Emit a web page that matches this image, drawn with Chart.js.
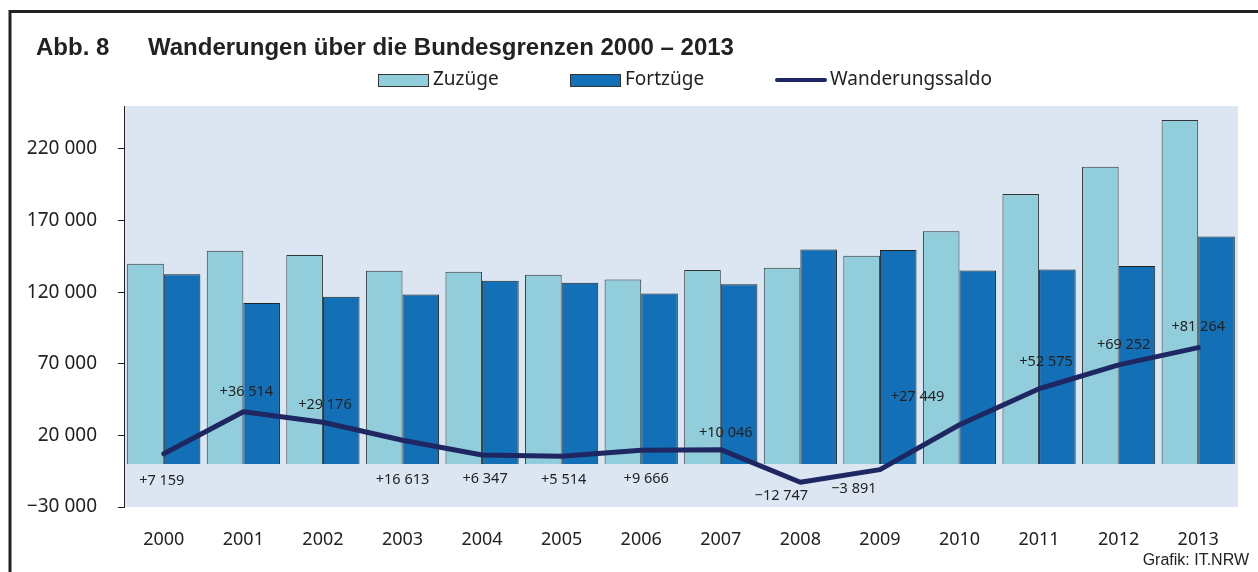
<!DOCTYPE html>
<html>
<head>
<meta charset="utf-8">
<script src="https://cdn.jsdelivr.net/npm/chart.js@4"></script>
<style>
  body { margin: 0; background: #fff; }
  #wrap { width: 1258px; height: 572px; }
</style>
</head>
<body>
<div id="wrap"><canvas id="chart" width="1258" height="572"></canvas></div>
<script>
// data
const years = ['2000', '2001', '2002', '2003', '2004', '2005', '2006', '2007', '2008', '2009', '2010', '2011', '2012', '2013'];
const zuzuege = [139800, 149000, 146000, 134900, 134300, 132100, 128800, 135500, 137100, 145500, 162600, 188500, 207500, 240200];
const fortzuege = [132600, 112500, 116800, 118300, 128000, 126600, 119100, 125500, 149800, 149400, 135200, 135900, 138300, 158900];
const saldo = [7159, 36514, 29176, 16613, 6347, 5514, 9666, 10046, -12747, -3891, 27449, 52575, 69252, 81264];
const yTicks = [-30000, 20000, 70000, 120000, 170000, 220000];

// where each saldo label sits relative to its point (px)
const labelOffsets = [[-2, 27], [3, -20], [2, -17], [0, 40], [3, 24], [2, 24], [5, 29],
  [5, -17], [-19, 14], [-26, 19], [-42, -28], [7, -27], [5, -20], [0, -21]];

const FONT = "'Noto Sans', sans-serif";
const C_ZU = '#92cddc';
const C_FORT = '#1370b7';
const C_SALDO = '#1e2761';

function fmt(v) {
  const s = Math.abs(v).toString().replace(/\B(?=(\d{3})+(?!\d))/g, ' ');
  return (v < 0 ? '\u2212' : '') + s;
}

Chart.defaults.font.family = FONT;
Chart.defaults.color = '#222';

// background of the plot, frame, title, legend and credit
const decor = {
  id: 'decor',
  beforeDraw(chart) {
    const { ctx, chartArea: a } = chart;
    ctx.save();
    ctx.fillStyle = '#dce6f2';
    ctx.fillRect(a.left, a.top, a.right - a.left, a.bottom - a.top);
    ctx.restore();
  },
  afterDraw(chart) {
    const ctx = chart.ctx;
    ctx.save();
    // frame
    ctx.strokeStyle = '#222';
    ctx.lineWidth = 3;
    ctx.beginPath();
    ctx.moveTo(10, 572);
    ctx.lineTo(10, 11.5);
    ctx.lineTo(1258, 11.5);
    ctx.stroke();

    // title
    ctx.fillStyle = '#222';
    ctx.textBaseline = 'alphabetic';
    ctx.font = "bold 24px 'Liberation Sans', Arial, sans-serif";
    ctx.fillText('Abb. 8', 36, 55);
    ctx.fillText('Wanderungen über die Bundesgrenzen 2000 \u2013 2013', 148, 55);

    // legend
    ctx.font = '19px ' + FONT;
    ctx.textBaseline = 'middle';
    const ds = chart.data.datasets;
    const items = [
      { x: 378, ds: ds[0], type: 'box' },
      { x: 570, ds: ds[1], type: 'box' },
      { x: 775, ds: ds[2], type: 'line' }
    ];
    items.forEach(it => {
      if (it.type === 'box') {
        ctx.fillStyle = it.ds.backgroundColor;
        ctx.fillRect(it.x, 74, 50, 12);
        ctx.strokeStyle = '#333';
        ctx.lineWidth = 1;
        ctx.strokeRect(it.x + 0.5, 74.5, 50, 12);
      } else {
        ctx.strokeStyle = it.ds.borderColor;
        ctx.lineWidth = 4;
        ctx.lineCap = 'round';
        ctx.beginPath();
        ctx.moveTo(it.x + 2, 80);
        ctx.lineTo(it.x + 50, 80);
        ctx.stroke();
      }
      ctx.fillStyle = '#222';
      ctx.fillText(it.ds.label, it.x + 55, 80);
    });

    // saldo labels
    const meta = chart.getDatasetMeta(2);
    ctx.font = '14.5px ' + FONT;
    ctx.textAlign = 'center';
    ctx.fillStyle = '#222';
    meta.data.forEach((pt, i) => {
      const v = saldo[i];
      const txt = (v >= 0 ? '+' : '\u2212') + fmt(Math.abs(v));
      const o = labelOffsets[i];
      ctx.fillText(txt, pt.x + o[0], pt.y + o[1]);
    });

    // credit
    ctx.font = "16px 'Liberation Sans', Arial, sans-serif";
    ctx.textAlign = 'right';
    ctx.fillText('Grafik: IT.NRW', 1249, 561);
    ctx.restore();
  }
};

new Chart(document.getElementById('chart'), {
  data: {
    labels: years,
    datasets: [
      {
        type: 'bar', label: 'Zuzüge', data: zuzuege, order: 2,
        backgroundColor: C_ZU, borderColor: '#333', borderWidth: 1,
        categoryPercentage: 0.92, barPercentage: 1
      },
      {
        type: 'bar', label: 'Fortzüge', data: fortzuege, order: 2,
        backgroundColor: C_FORT, borderColor: '#222', borderWidth: 1,
        categoryPercentage: 0.92, barPercentage: 1
      },
      {
        type: 'line', label: 'Wanderungssaldo', data: saldo, order: 1,
        borderColor: C_SALDO, backgroundColor: C_SALDO, borderWidth: 5,
        pointRadius: 0, borderCapStyle: 'round', borderJoinStyle: 'round', tension: 0
      }
    ]
  },
  options: {
    responsive: false,
    animation: false,
    devicePixelRatio: 1,
    layout: { padding: { left: 0, top: 106, right: 20, bottom: 0 } },
    plugins: {
      legend: { display: false },
      title: { display: false },
      tooltip: { enabled: false }
    },
    scales: {
      x: {
        grid: { display: false },
        border: { display: false },
        ticks: { font: { size: 18 }, color: '#222', padding: 14, maxRotation: 0 },
        afterFit(scale) { scale.height = 65; }
      },
      y: {
        min: -30000,
        max: 250000,
        afterBuildTicks(scale) { scale.ticks = yTicks.map(v => ({ value: v })); },
        afterFit(scale) { scale.width = 124; },
        grid: { drawOnChartArea: false, drawTicks: true, tickLength: 6, tickColor: '#222' },
        border: { display: true, color: '#222', width: 1 },
        ticks: {
          font: { size: 19 }, color: '#222', padding: 21,
          callback: v => fmt(v)
        }
      }
    }
  },
  plugins: [decor]
});
</script>
</body>
</html>
